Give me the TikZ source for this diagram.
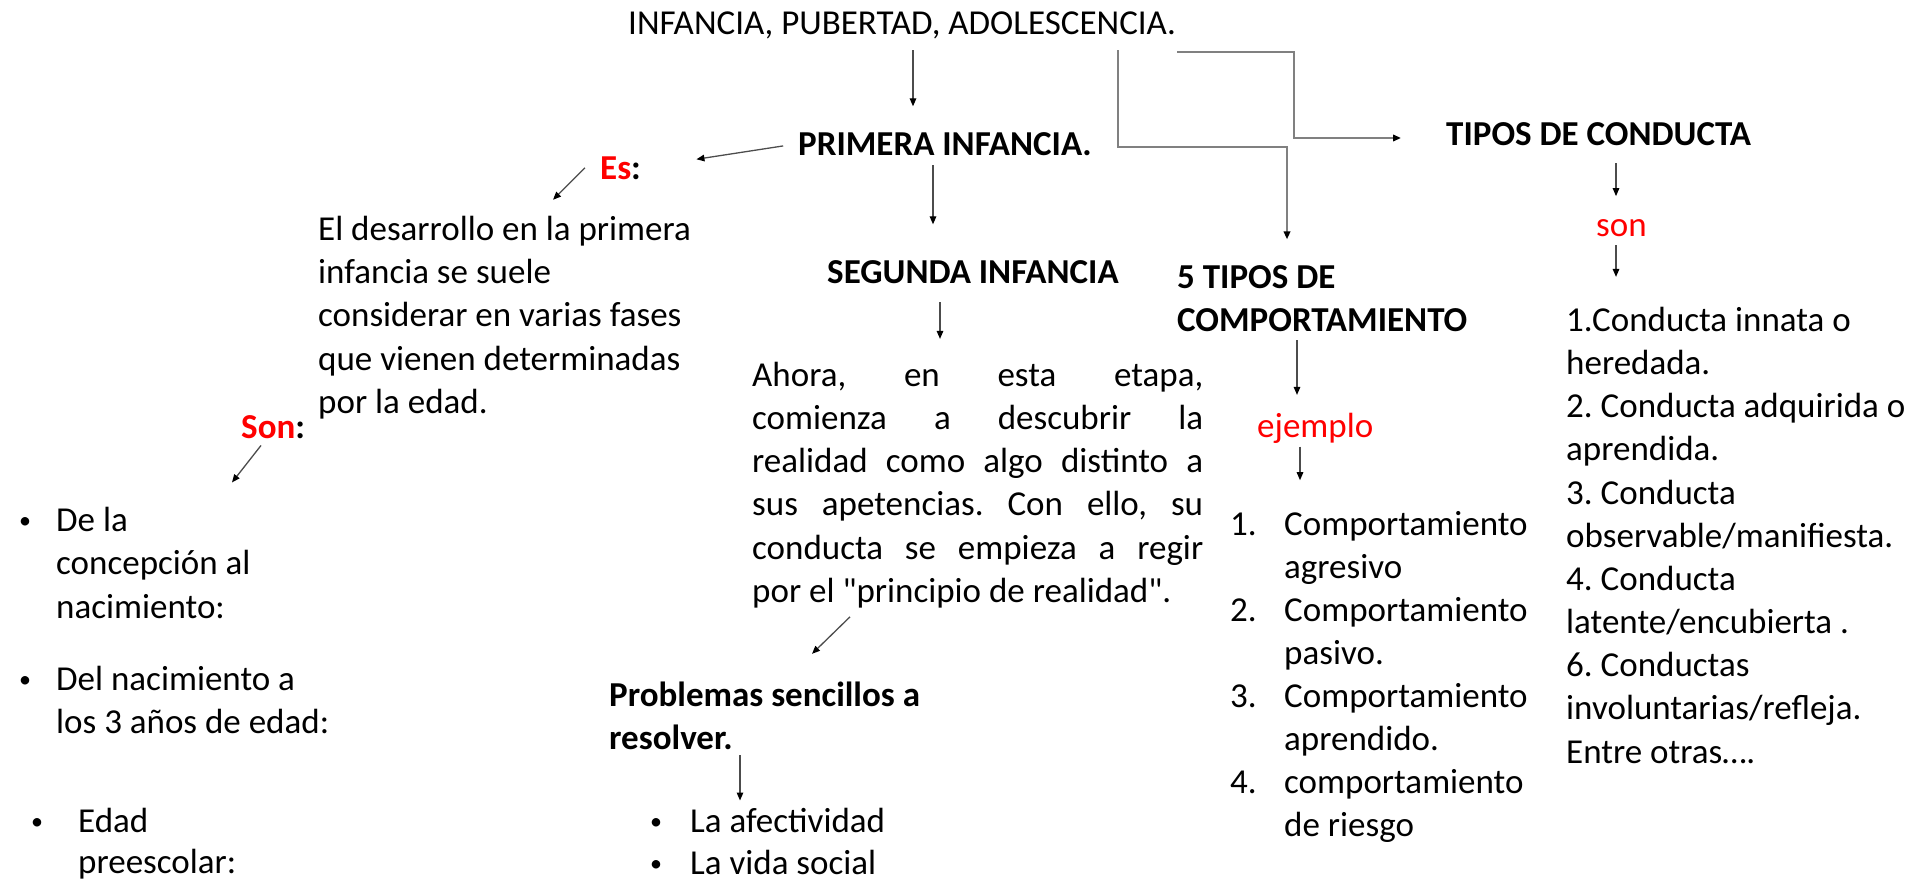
\documentclass[tikz,border=0pt]{standalone}
\usepackage{fontspec}
\setmainfont{Carlito}[Ligatures=TeXOff]
\usetikzlibrary{arrows.meta}
\newcommand\bodyfont{\fontsize{35}{43.2}\selectfont\frenchspacing}
\newcommand\dotmark{\raisebox{3pt}{\fontsize{24}{24}\selectfont •}}
\begin{document}
\begin{tikzpicture}[x=1pt,y=-1pt,
  txt/.style={anchor=base west, inner sep=0pt, font=\bodyfont},
  hd/.style={txt, font=\bodyfont\bfseries},
  arr/.style={-{Triangle[length=8pt,width=6.5pt,color=black]}, line width=1.3pt, black!70},
  conn/.style={-{Triangle[length=8pt,width=6.5pt,color=black]}, line width=2pt, black!50}]
\useasboundingbox (0,0) rectangle (1932,880);
\node[txt] (title) at (628,34.5) {INFANCIA, PUBERTAD, ADOLESCENCIA.};
\node[hd] (prim) at (798,155) {PRIMERA INFANCIA.};
\node[hd] (es) at (600,179) {\textcolor{red}{Es}:};
\node[txt] (des1) at (318,240) {El desarrollo en la primera};
\node[txt] (des2) at (318,283) {infancia se suele};
\node[txt] (des3) at (318,326) {considerar en varias fases};
\node[txt] (des4) at (318,370) {que vienen determinadas};
\node[txt] (des5) at (318,413) {por la edad.};
\node[hd] (son) at (241,438) {\textcolor{red}{Son}:};
\node[txt] (b1) at (19,531) {\dotmark};
\node[txt] (f1a) at (56,531) {De la};
\node[txt] (f1b) at (56,574) {concepción al};
\node[txt] (f1c) at (56,618) {nacimiento:};
\node[txt] (b2) at (19,690) {\dotmark};
\node[txt] (f2a) at (56,690) {Del nacimiento a};
\node[txt] (f2b) at (56,733) {los 3 años de edad:};
\node[txt] (b3) at (31,832) {\dotmark};
\node[txt] (f3a) at (78,832) {Edad};
\node[txt] (f3b) at (78,873) {preescolar:};
% segunda infancia
\node[hd] (seg) at (827,283) {SEGUNDA INFANCIA};
\node[txt] (par1) at (752,386) {\makebox[451pt][s]{Ahora, en esta etapa,}};
\node[txt] (par2) at (752,429) {\makebox[451pt][s]{comienza a descubrir la}};
\node[txt] (par3) at (752,472.5) {\makebox[451pt][s]{realidad como algo distinto a}};
\node[txt] (par4) at (752,515.5) {\makebox[451pt][s]{sus apetencias. Con ello, su}};
\node[txt] (par5) at (752,559) {\makebox[451pt][s]{conducta se empieza a regir}};
\node[txt] (par6) at (752,602) {por el "principio de realidad".};
\node[hd] (prob1) at (609,706) {Problemas sencillos a};
\node[hd] (prob2) at (609,749) {resolver.};
\node[txt] (b4) at (650,832) {\dotmark};
\node[txt] (afec) at (690,832) {La afectividad};
\node[txt] (b5) at (650,874) {\dotmark};
\node[txt] (vida) at (690,874) {La vida social};
% comportamiento
\node[hd] (tipos1) at (1177,288) {5 TIPOS DE};
\node[hd] (tipos2) at (1177,331) {COMPORTAMIENTO};
\node[txt, text=red] (ejem) at (1257,437) {ejemplo};
\node[txt] (n1) at (1230,535) {1.};
\node[txt] (l1a) at (1284,535) {Comportamiento};
\node[txt] (l1b) at (1284,578) {agresivo};
\node[txt] (n2) at (1230,621) {2.};
\node[txt] (l2a) at (1284,621) {Comportamiento};
\node[txt] (l2b) at (1284,664) {pasivo.};
\node[txt] (n3) at (1230,707) {3.};
\node[txt] (l3a) at (1284,707) {Comportamiento};
\node[txt] (l3b) at (1284,750) {aprendido.};
\node[txt] (n4) at (1230,793) {4.};
\node[txt] (l4a) at (1284,793) {comportamiento};
\node[txt] (l4b) at (1284,836) {de riesgo};
% conducta
\node[hd] (tipc) at (1446,145.5) {TIPOS DE CONDUCTA};
\node[txt, text=red] (tson) at (1596,236) {son};
\node[txt] (c1) at (1566,331) {1.Conducta innata o};
\node[txt] (c2) at (1566,374) {heredada.};
\node[txt] (c3) at (1566,417) {2. Conducta adquirida o};
\node[txt] (c4) at (1566,460) {aprendida.};
\node[txt] (c5) at (1566,504) {3. Conducta};
\node[txt] (c6) at (1566,547) {observable/manifiesta.};
\node[txt] (c7) at (1566,590) {4. Conducta};
\node[txt] (c8) at (1566,633) {latente/encubierta .};
\node[txt] (c9) at (1566,676) {6. Conductas};
\node[txt] (c10) at (1566,719) {involuntarias/refleja.};
\node[txt] (c11) at (1566,763) {Entre otras….};
% arrows
\draw[arr, shorten <=11pt, shorten >=25.5pt] (title.south -| 913,0) -- (prim.north -| 913,0);
\draw[arr, shorten <=15pt, shorten >=56pt] (prim.west) -- (es.east);
\draw[arr] (es.west) ++(-15,0) -- ++(-32,32);
\draw[arr] (son.south west) ++(20,7) -- ++(-29,37);
\draw[arr, shorten <=10pt, shorten >=35.5pt] (prim.south -| 933,0) -- (seg.north -| 933,0);
\draw[arr, shorten <=19pt, shorten >=22.6pt] (seg.south -| 940,0) -- (par1.north -| 940,0);
\draw[arr] (par6.south west) ++(98,9) -- ++(-38,37);
\draw[arr, shorten <=6pt, shorten >=7pt] (prob2.south -| 740,0) -- (afec.north -| 740,0);
\draw[conn, shorten <=11pt, shorten >=25.5pt] (title.south -| 1118,0) |- (1287,147) -- (tipos1.north -| 1287,0);
\draw[conn] (title.south east) ++(1,13) -| (1294,138) -- (tipc.west |- 0,138) [shorten >=45pt];
\draw[arr, shorten <=9pt, shorten >=17.6pt] (tipos2.south -| 1297,0) -- (ejem.north -| 1297,0);
\draw[arr, shorten <=3.5pt, shorten >=30.5pt] (ejem.south -| 1300,0) -- (l1a.north -| 1300,0);
\draw[arr, shorten <=17.5pt, shorten >=22.7pt] (tipc.south -| 1616,0) -- (tson.north -| 1616,0);
\draw[arr, shorten <=9pt, shorten >=29.6pt] (tson.south -| 1616,0) -- (c1.north -| 1616,0);
\end{tikzpicture}
\end{document}
